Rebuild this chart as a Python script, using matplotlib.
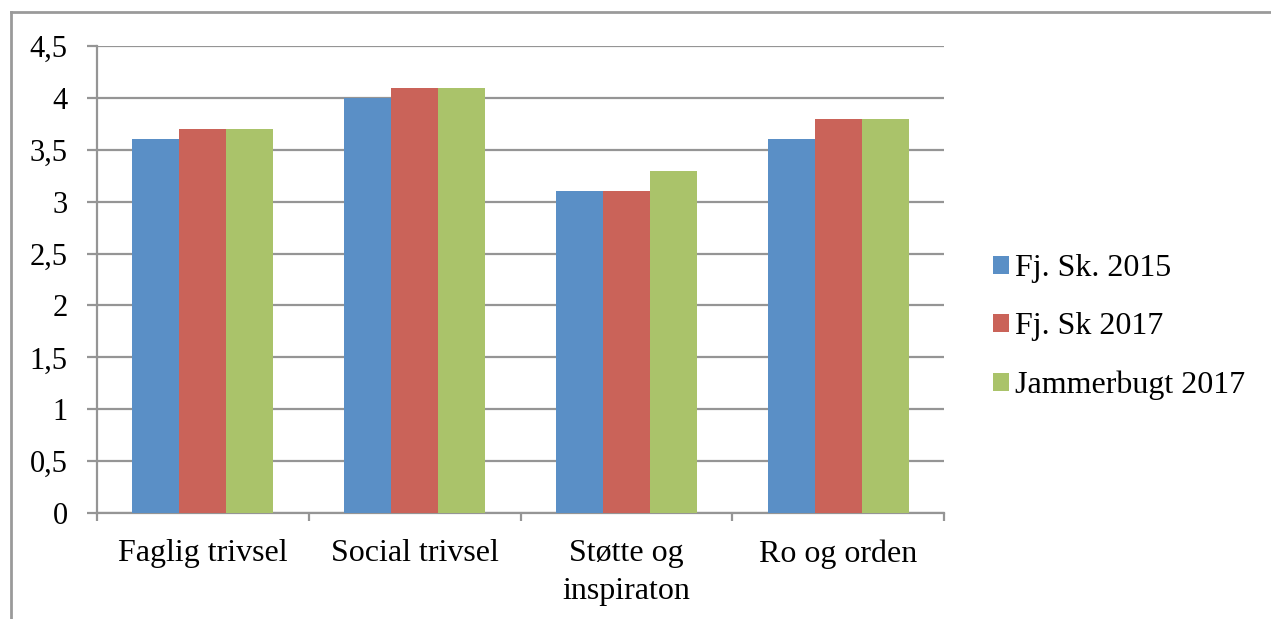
import matplotlib
matplotlib.use("Agg")
import matplotlib.pyplot as plt
from matplotlib.lines import Line2D
from matplotlib.patches import Patch
import numpy as np

categories = ["Faglig trivsel", "Social trivsel", "Støtte og\ninspiraton", "Ro og orden"]
series_names = ["Fj. Sk. 2015", "Fj. Sk 2017", "Jammerbugt 2017"]
fj2015 = [3.6, 4.0, 3.1, 3.6]
fj2017 = [3.7, 4.1, 3.1, 3.8]
jam2017 = [3.7, 4.1, 3.3, 3.8]
yticks = [0, 0.5, 1, 1.5, 2, 2.5, 3, 3.5, 4, 4.5]
ytick_labels = ["0", "0,5", "1", "1,5", "2", "2,5", "3", "3,5", "4", "4,5"]

colors = ["#5A8FC6", "#CA6359", "#AAC36A"]
grid_c = "#959595"

plt.rcParams['font.family'] = ['Liberation Serif', 'DejaVu Serif']

W, H = 1271, 619
fig = plt.figure(figsize=(W / 100, H / 100), dpi=100)
ax = fig.add_axes([97 / W, 1 - 513 / H, (944 - 97) / W, (513 - 46) / H])

x = np.arange(len(categories)) + 0.5
bw = 0.222
for i, (vals, c, name) in enumerate(zip([fj2015, fj2017, jam2017], colors, series_names)):
    ax.bar(x + (i - 1) * bw, vals, width=bw, color=c, label=name, zorder=3, linewidth=0)

ax.set_xlim(0, 4)
ax.set_ylim(0, 4.5)
ax.set_yticks(yticks)
ax.set_yticklabels(ytick_labels)
ax.yaxis.grid(True, color=grid_c, linewidth=1.6, zorder=0)
ax.set_axisbelow(True)

ax.set_xticks([0, 1, 2, 3, 4])
ax.set_xticklabels([])
ax.set_xticks(x, minor=True)
ax.set_xticklabels(categories, minor=True, fontsize=23, linespacing=1.4)
ax.tick_params(axis='x', which='minor', length=0, pad=19)
ax.tick_params(axis='x', which='major', length=6, width=1.6, color=grid_c, direction='out')
ax.tick_params(axis='y', length=7, width=1.6, color=grid_c, direction='out', labelsize=22, pad=14)

for s in ['top', 'right']:
    ax.spines[s].set_visible(False)
for s in ['left', 'bottom']:
    ax.spines[s].set_color(grid_c)
    ax.spines[s].set_linewidth(1.6)

handles = [Patch(facecolor=c, edgecolor='none') for c in colors]
leg = fig.legend(handles, series_names, loc='upper left',
                 bbox_to_anchor=(993 / W, 1 - 254 / H),
                 frameon=False, fontsize=23, handlelength=0.5, handleheight=0.5,
                 handletextpad=0.2, labelspacing=0.92, borderaxespad=0, borderpad=0)

# outer chart frame
fig.add_artist(Line2D([11 / W, 1.0], [1 - 12 / H, 1 - 12 / H], transform=fig.transFigure,
                      color="#9A9A9A", linewidth=2))
fig.add_artist(Line2D([11 / W, 11 / W], [0, 1 - 12 / H], transform=fig.transFigure,
                      color="#9A9A9A", linewidth=2))

fig.savefig("out.png", dpi=100)
